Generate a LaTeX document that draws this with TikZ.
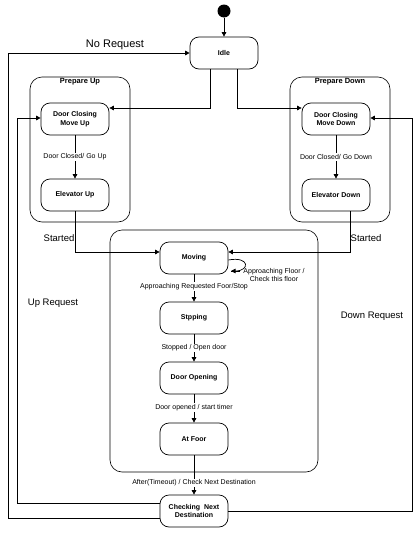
\documentclass[tikz,border=0pt]{standalone}
\usepackage{fontspec}
\setmainfont{Liberation Sans}
\usetikzlibrary{arrows.meta}
\begin{document}
\begin{tikzpicture}[x=1pt,y=-1pt,
 state/.style={draw,line width=0.7pt,rounded corners=9pt,minimum width=68pt,minimum height=32pt,align=center,font=\fontsize{7}{8.5}\selectfont\bfseries,inner sep=1pt},
 group/.style={draw,line width=0.6pt,rounded corners=12pt,inner sep=0pt},
 title/.style={font=\fontsize{7.5}{9}\selectfont\bfseries,inner sep=1pt},
 tr/.style={-{Triangle[length=4.5pt,width=4.5pt]},line width=0.7pt},
 ret/.style={-{Triangle[length=4.5pt,width=4.5pt]},line width=0.9pt},
 lbl/.style={font=\fontsize{7}{8.5}\selectfont,inner sep=1pt,fill=white,align=center},
 big/.style={font=\fontsize{9.5}{11}\selectfont,inner sep=1pt}]
\useasboundingbox (0,0) rectangle (419,533);
% group boxes
\node[group,minimum width=100pt,minimum height=145pt] (pu) at (80,149.5) {};
\node[title] (put) at (80,82) {Prepare Up};
\node[group,minimum width=100pt,minimum height=145pt] (pd) at (340,149.5) {};
\node[title] (pdt) at (340,82) {Prepare Down};
\node[group,minimum width=208pt,minimum height=242pt] (mv) at (214,351) {};
% states
\node[circle,fill,inner sep=0pt,minimum size=13pt] (init) at (224,11) {};
\node[state] (idle) at (224,53) {Idle};
\node[state] (dcmu) at (75,119) {Door Closing\\Move Up};
\node[state] (eu) at (75,195) {Elevator Up};
\node[state] (dcmd) at (336,119) {Door Closing\\Move Down};
\node[state] (ed) at (336,195) {Elevator Down};
\node[state] (moving) at (194,258) {Moving};
\node[state] (stp) at (194,318) {Stpping};
\node[state] (dop) at (194,378) {Door Opening};
\node[state] (atf) at (194,439) {At Foor};
\node[state] (chk) at (194,511) {Checking~~Next\\Destination};
% coordinates
\coordinate (a1) at (210,108);
\coordinate (a2) at (237,108);
\coordinate (s1) at (75,252);
\coordinate (s2) at (350,252);
\coordinate (n1) at (8,518);
\coordinate (n2) at (8,53);
\coordinate (u1) at (17,503);
\coordinate (u2) at (17,118);
\coordinate (d1) at (412,511);
\coordinate (d2) at (412,118);
\coordinate (lp) at (231,271);
% edges
\draw[tr] (init) -- (idle);
\draw[tr] (a1 |- idle.south) -- (a1) -- (a1 -| dcmu.east);
\draw[tr] (a2 |- idle.south) -- (a2) -- (a2 -| dcmd.west);
\draw[tr] (dcmu) -- node[lbl] {Door Closed/ Go Up} (eu);
\draw[tr] (dcmd) -- node[lbl] {Door Closed/ Go Down} (ed);
\draw[tr] (eu.south) -- (s1) -- (s1 -| moving.west);
\draw[tr] (s2 |- ed.south) -- (s2) -- (s2 -| moving.east);
\node[big] (st1) at (59,238) {Started};
\node[big] (st2) at (366,238) {Started};
\draw[tr] ([yshift=-2pt]moving.east) .. controls (250,256) and (250,271) .. (lp);
\node[lbl,fill=none] (lpl) at (274,275) {Approaching Floor /\\Check this floor};
\draw[line width=0.5pt] (lp) -- ++(9,0);
\draw[tr] (moving) -- node[lbl,pos=0.45] {Approaching Requested Foor/Stop} (stp);
\draw[tr] (stp) -- node[lbl,pos=0.5] {Stopped / Open door} (dop);
\draw[tr] (dop) -- node[lbl,pos=0.47] {Door opened / start timer} (atf);
\draw[tr] (atf) -- node[lbl,pos=0.7] {After(Timeout) / Check Next Destination} (chk);
% return transitions
\draw[ret] (n1 -| chk.west) -- (n1) -- (n2) -- (idle.west);
\node[font=\fontsize{11}{13}\selectfont,inner sep=1pt] (nr) at (115,45) {No Request};
\draw[ret] (u1 -| chk.west) -- (u1) -- (u2) -- (u2 -| dcmu.west);
\node[big] (ur) at (53,303) {Up Request};
\draw[ret] (chk.east) -- (d1) -- (d2) -- (d2 -| dcmd.east);
\node[big] (dr) at (372,316) {Down Request};
\end{tikzpicture}
\end{document}
